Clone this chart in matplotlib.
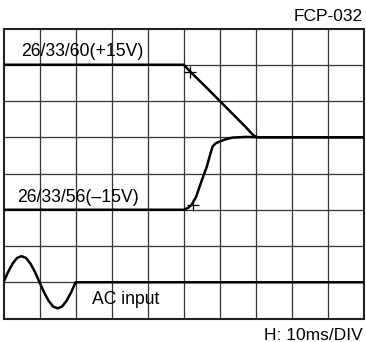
import matplotlib
matplotlib.use("Agg")
import matplotlib.pyplot as plt

plt.rcParams['font.family'] = ['Liberation Sans', 'DejaVu Sans']

# +15V output (divisions)
p15_x = [0, 5.0, 5.17, 5.64, 5.99, 6.46, 6.70, 6.85, 6.95, 7.05, 10]
p15_y = [7, 7.0, 6.82, 6.36, 6.01, 5.54, 5.30, 5.14, 5.04, 5.0, 5]

# -15V output
m15_x = [0, 5.0, 5.12, 5.22, 5.34, 5.44, 5.54, 5.64, 5.72, 5.80, 5.88, 5.99, 6.15, 6.35, 6.74, 7.0, 10]
m15_y = [3, 3.0, 3.05, 3.14, 3.35, 3.64, 3.92, 4.19, 4.48, 4.74, 4.83, 4.88, 4.94, 4.99, 5.01, 5.0, 5]

# AC input
ac_x = [0, 0.125, 0.25, 0.375, 0.5, 0.625, 0.75, 0.875, 1.0, 1.125, 1.25, 1.375, 1.5,
        1.625, 1.75, 1.875, 2.0, 10]
ac_y = [1, 1.28, 1.51, 1.67, 1.72, 1.67, 1.51, 1.28, 1, 0.72, 0.49, 0.33, 0.28,
        0.33, 0.49, 0.72, 1, 1]

fig = plt.figure(figsize=(3.66, 3.42), dpi=100)
ax = fig.add_axes([3.5/366, 1-318.5/342, 360.5/366, 290/342])
ax.set_xlim(0, 10)
ax.set_ylim(0, 8)

for i in range(1, 10):
    ax.axvline(i, color='#333333', lw=0.9, zorder=1)
for j in range(1, 8):
    ax.axhline(j, color='#333333', lw=0.9, zorder=1)

ax.plot(p15_x, p15_y, color='black', lw=1.8, zorder=3)
ax.plot(m15_x, m15_y, color='black', lw=1.8, zorder=3)
ax.plot(ac_x, ac_y, color='black', lw=1.8, zorder=3)

# markers
ax.plot([5.17], [6.79], marker='+', color='black', ms=9, mew=0.9, zorder=4)
ax.plot([5.25], [3.14], marker='+', color='black', ms=9, mew=0.9, zorder=4)

ax.text(0.50, 7.23, '26/33/60(+15V)', fontsize=12.7, ha='left', va='baseline')
ax.text(0.38, 3.22, '26/33/56(\u201315V)', fontsize=12.7, ha='left', va='baseline')
ax.text(2.45, 0.40, 'AC input', fontsize=12.7, ha='left', va='baseline')

fig.text(362.5/366, 1-20.7/342, 'FCP-032', fontsize=12.5, ha='right', va='baseline')
fig.text(362.5/366, 1-339.5/342, 'H: 10ms/DIV', fontsize=12.5, ha='right', va='baseline')

ax.set_xticks([])
ax.set_yticks([])
for s in ax.spines.values():
    s.set_linewidth(1.5)
    s.set_color('#222222')

fig.savefig('out.png', dpi=100)
